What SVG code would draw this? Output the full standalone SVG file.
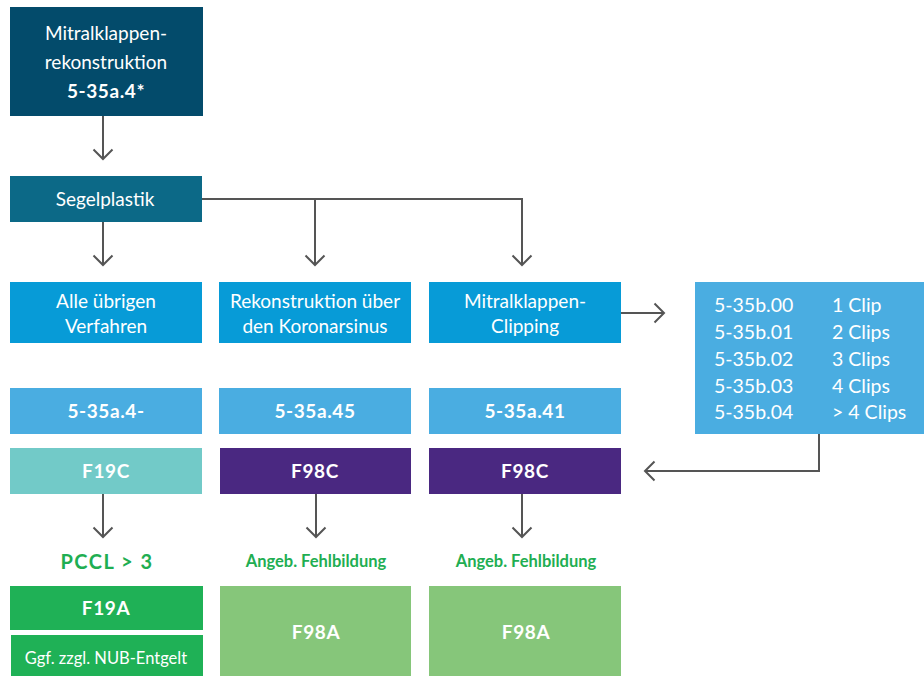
<svg xmlns="http://www.w3.org/2000/svg" width="924" height="676" viewBox="0 0 924 676">
<defs>
<marker id="arr" markerWidth="22" markerHeight="22" refX="11" refY="11" orient="auto" markerUnits="userSpaceOnUse">
<path d="M1.5,1.5 L11,11 L1.5,20.5" fill="none" stroke="#555" stroke-width="2"/>
</marker>
<style>
text{font-family:Lato,"Open Sans","Liberation Sans",sans-serif;fill:#fff;text-anchor:middle;font-size:19px}
.b{font-weight:bold;letter-spacing:0.6px}
.g{fill:#1fae52;font-weight:bold}
.c{stroke:#555;stroke-width:2;fill:none}
.l{text-anchor:start;font-size:19.5px}
</style>
</defs>
<rect width="924" height="676" fill="#fff"/>
<g id="connectors">
<path class="c" d="M103,116 V159" marker-end="url(#arr)"/>
<path class="c" d="M103,222 V265" marker-end="url(#arr)"/>
<path class="c" d="M202,199 H522 V265" marker-end="url(#arr)"/>
<path class="c" d="M315,199 V265" marker-end="url(#arr)"/>
<path class="c" d="M621,313 H664" marker-end="url(#arr)"/>
<path class="c" d="M819,434 V471 H645" marker-end="url(#arr)"/>
<path class="c" d="M103,494 V537" marker-end="url(#arr)"/>
<path class="c" d="M316,494 V537" marker-end="url(#arr)"/>
<path class="c" d="M522,494 V537" marker-end="url(#arr)"/>
</g>
<g id="n1"><rect x="10" y="7" width="193" height="109" fill="#034b6b"/>
<text x="106" y="40">Mitralklappen-</text><text x="106" y="69">rekonstruktion</text><text x="106" y="98" class="b">5-35a.4*</text></g>
<g id="n2"><rect x="10" y="176" width="192" height="46" fill="#0c6987"/><text x="105" y="206">Segelplastik</text></g>
<g id="n3"><rect x="10" y="282" width="192" height="61" fill="#079bd7"/><text x="106" y="308">Alle übrigen</text><text x="106" y="333">Verfahren</text></g>
<g id="n4"><rect x="219" y="282" width="192" height="61" fill="#079bd7"/><text x="315" y="308">Rekonstruktion über</text><text x="315" y="333">den Koronarsinus</text></g>
<g id="n5"><rect x="429" y="282" width="192" height="61" fill="#079bd7"/><text x="525" y="308">Mitralklappen-</text><text x="525" y="333">Clipping</text></g>
<g id="n6"><rect x="695" y="282" width="229" height="152" fill="#4aade1"/>
<text class="l" x="714" y="312">5-35b.00</text><text class="l" x="832" y="312">1 Clip</text>
<text class="l" x="714" y="339">5-35b.01</text><text class="l" x="832" y="339">2 Clips</text>
<text class="l" x="714" y="366">5-35b.02</text><text class="l" x="832" y="366">3 Clips</text>
<text class="l" x="714" y="393">5-35b.03</text><text class="l" x="832" y="393">4 Clips</text>
<text class="l" x="714" y="419">5-35b.04</text><text class="l" x="832" y="419">&gt; 4 Clips</text></g>
<g id="n7"><rect x="10" y="388" width="192" height="46" fill="#4aade1"/><text x="106" y="418" class="b">5-35a.4-</text></g>
<g id="n8"><rect x="219" y="388" width="192" height="46" fill="#4aade1"/><text x="315" y="418" class="b">5-35a.45</text></g>
<g id="n9"><rect x="429" y="388" width="192" height="46" fill="#4aade1"/><text x="525" y="418" class="b">5-35a.41</text></g>
<g id="n10"><rect x="10" y="448" width="192" height="46" fill="#72cac8"/><text x="106" y="478" class="b">F19C</text></g>
<g id="n11"><rect x="220" y="448" width="191" height="46" fill="#4a2881"/><text x="315" y="478" class="b">F98C</text></g>
<g id="n12"><rect x="429" y="448" width="192" height="46" fill="#4a2881"/><text x="525" y="478" class="b">F98C</text></g>
<g id="n13"><text x="107" y="569" class="g" style="font-size:20px;letter-spacing:1.5px">PCCL &gt; 3</text></g>
<g id="n14"><text x="316" y="567" class="g" style="font-size:16.5px">Angeb. Fehlbildung</text></g>
<g id="n15"><text x="526" y="567" class="g" style="font-size:16.5px">Angeb. Fehlbildung</text></g>
<g id="n16"><rect x="10" y="586" width="193" height="44" fill="#1fb156"/><text x="106" y="615" class="b">F19A</text></g>
<g id="n17"><rect x="11" y="635" width="192" height="41" fill="#1fb156"/><text x="106" y="664" style="font-size:16.5px">Ggf. zzgl. NUB-Entgelt</text></g>
<g id="n18"><rect x="220" y="586" width="191" height="90" fill="#86c67a"/><text x="316" y="639" class="b">F98A</text></g>
<g id="n19"><rect x="429" y="586" width="192" height="90" fill="#86c67a"/><text x="526" y="639" class="b">F98A</text></g>
</svg>
